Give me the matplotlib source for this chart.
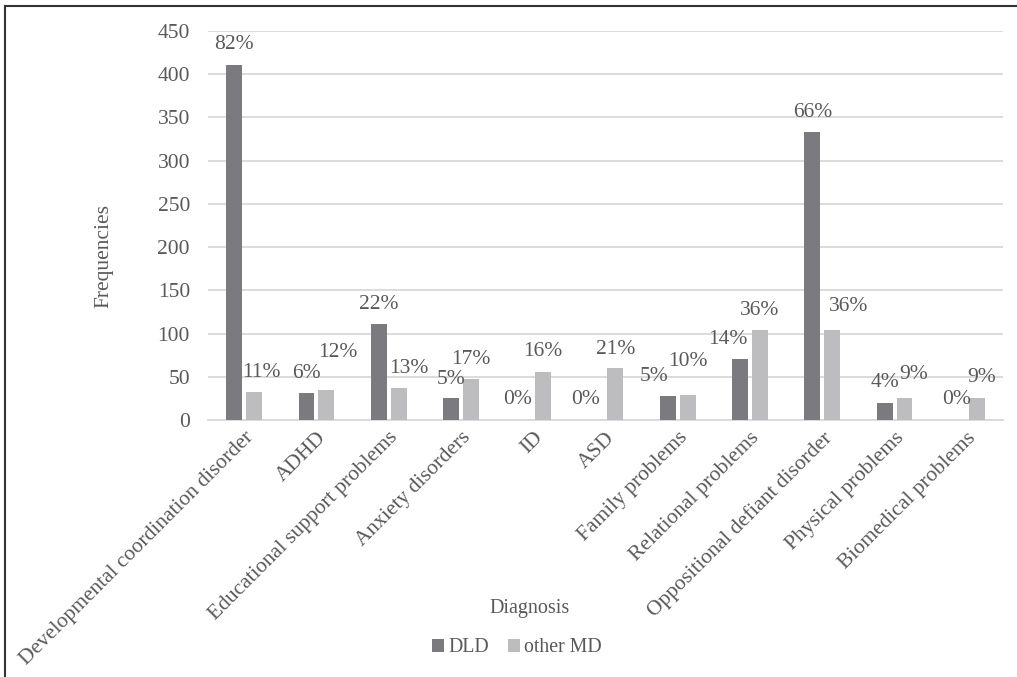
import matplotlib
matplotlib.use("Agg")
import matplotlib.pyplot as plt
from matplotlib.lines import Line2D
import numpy as np

plt.rcParams['font.family'] = 'serif'
plt.rcParams['font.serif'] = ['Liberation Serif', 'DejaVu Serif']

# diagnosis categories and counts per group
categories = ['Developmental coordination disorder', 'ADHD', 'Educational support problems',
              'Anxiety disorders', 'ID', 'ASD', 'Family problems', 'Relational problems',
              'Oppositional defiant disorder', 'Physical problems', 'Biomedical problems']
dld = [411, 31, 111, 25, 0, 0, 28, 71, 333, 20, 0]
other_md = [32, 35, 37, 47, 56, 60, 29, 104, 104, 26, 25]
dld_pct = ['82%', '6%', '22%', '5%', '0%', '0%', '5%', '14%', '66%', '4%', '0%']
other_pct = ['11%', '12%', '13%', '17%', '16%', '21%', '10%', '36%', '36%', '9%', '9%']
yticks = [0, 50, 100, 150, 200, 250, 300, 350, 400, 450]

# label nudges in pixels (dx, dy) from the top of each bar
dld_off = [(0, 20), (0, 20), (0, 20), (0, 19), (-6, 20), (-10, 20), (-14, 19), (-12, 19), (0, 20), (0, 20), (0, 20)]
other_off = [(7, 20), (12, 37), (10, 20), (0, 20), (0, 20), (0, 19), (0, 33), (0, 20), (16, 24), (9, 23), (5, 21)]

DARK = '#7b7b7f'
LIGHT = '#bdbdbf'
TXT = '#595959'
GRID = '#d9d9d9'
FS = 15.5

fig = plt.figure(figsize=(10.17, 6.77), dpi=100)
ax = fig.add_axes([208/1017, 1-420/677, 795/1017, 389/677])

x = np.arange(len(categories))
w = 0.22
b1 = ax.bar(x - 0.1375, dld, w, color=DARK, label='DLD', zorder=3)
b2 = ax.bar(x + 0.1375, other_md, w, color=LIGHT, label='other MD', zorder=3)

for bars, labels, offs in [(b1, dld_pct, dld_off), (b2, other_pct, other_off)]:
    for rect, lab, (dx, dy) in zip(bars, labels, offs):
        ax.annotate(lab, (rect.get_x() + rect.get_width()/2, rect.get_height()),
                    xytext=(dx, dy), textcoords='offset pixels',
                    ha='center', va='center', fontsize=FS, color=TXT, zorder=4)

ax.set_xlim(-0.5, len(categories) - 0.5)
ax.set_ylim(0, 450)
ax.set_yticks(yticks)
ax.yaxis.grid(True, color=GRID, linewidth=1.3, zorder=0)
ax.tick_params(axis='both', length=0, labelsize=FS, labelcolor=TXT)
ax.tick_params(axis='y', pad=13)
ax.set_xticks(x)
ax.set_xticklabels(categories, rotation=45, ha='right', va='top', rotation_mode='anchor')
ax.tick_params(axis='x', pad=6)
for s in ['top', 'right', 'left']:
    ax.spines[s].set_visible(False)
ax.spines['bottom'].set_color(GRID)
ax.spines['bottom'].set_linewidth(1.3)

fig.text(104/1017, 1-256/677, 'Frequencies', fontsize=FS, color=TXT,
         rotation=90, ha='center', va='center')
fig.text(530/1017, 1-609/677, 'Diagnosis', fontsize=14.5, color=TXT, ha='center', va='center')

fig.legend(handles=[b1, b2], labels=['DLD', 'other MD'], loc='center',
           bbox_to_anchor=(517/1017, 1-648/677), ncol=2, frameon=False,
           fontsize=14.3, labelcolor=TXT, handlelength=0.6, handleheight=0.6,
           handletextpad=0.2, columnspacing=1.0)

# outer frame (top and left edges)
fig.add_artist(Line2D([5/1017, 1], [1-6/677, 1-6/677], color='#333333', linewidth=1.5))
fig.add_artist(Line2D([5/1017, 5/1017], [0, 1-6/677], color='#333333', linewidth=1.5))

fig.savefig('out.png', dpi=100, facecolor='white')
